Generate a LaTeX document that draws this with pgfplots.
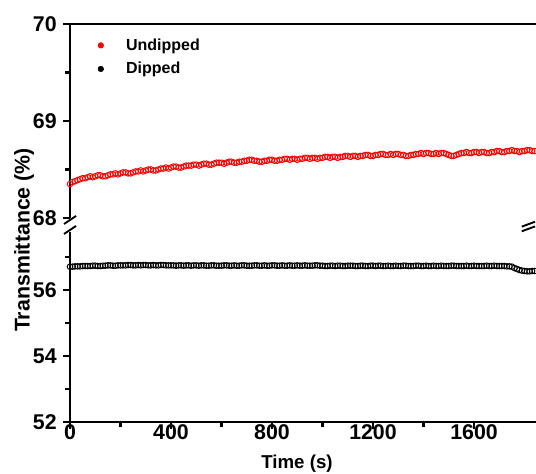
\documentclass[border=0pt]{standalone}
\usepackage{pgfplots}
\pgfplotsset{compat=1.18}
\usepackage{fontspec}
\setmainfont{Liberation Sans}

\begin{document}
\begin{tikzpicture}
\pgfplotsset{
  brk/.style={
    scale only axis, width=349.5pt,
    xmin=0, xmax=1845.5,
    tick label style={font=\fontsize{16}{18}\selectfont\bfseries},
    yticklabel style={xshift=-1.5pt},
    /pgf/number format/assume math mode=true,
    /pgf/number format/1000 sep={},
  },
  nolinetips/.style={
    every outer x axis line/.append style={-, line width=2pt},
    every outer y axis line/.append style={-, line width=2pt},
    x axis line style={-}, y axis line style={-},
    tick align=outside,
    major tick length=5pt, minor tick length=3.5pt,
    every tick/.style={line width=1.6pt, black},
  },
  undip/.style={only marks, mark=o, mark size=2.1pt, red,
    mark options={line width=0.7pt, fill=white}},
  dip/.style={only marks, mark=o, mark size=2.1pt, black,
    mark options={line width=0.7pt, fill=white}},
}

% lower part, 52 -- 57.75
\begin{axis}[brk, name=lo, at={(0pt,0pt)}, height=142.5pt,
  ymin=52, ymax=57.75,
  axis x line=bottom, axis y line=left, nolinetips,
  xtick={0,400,...,1600}, minor xtick={200,600,1000,1400},
  ytick={52,54,56}, minor ytick={53,55,57},
  xticklabel style={yshift=6.5pt},
]
%Dipped
\addplot[dip] coordinates {
 (0,56.70) (10,56.70) (20,56.71) (30,56.71) (40,56.71) (50,56.72) (60,56.72) (70,56.72) (80,56.72) (90,56.73)
 (100,56.73) (110,56.72) (120,56.72) (130,56.73) (140,56.73) (150,56.74) (160,56.74) (170,56.73) (180,56.73) (190,56.74)
 (200,56.74) (210,56.74) (220,56.74) (230,56.75) (240,56.75) (250,56.74) (260,56.74) (270,56.75) (280,56.74) (290,56.75)
 (300,56.75) (310,56.74) (320,56.74) (330,56.75) (340,56.74) (350,56.74) (360,56.75) (370,56.75) (380,56.74) (390,56.74)
 (400,56.74) (410,56.74) (420,56.73) (430,56.74) (440,56.74) (450,56.73) (460,56.74) (470,56.74) (480,56.73) (490,56.74)
 (500,56.74) (510,56.73) (520,56.74) (530,56.74) (540,56.73) (550,56.73) (560,56.74) (570,56.74) (580,56.73) (590,56.73)
 (600,56.73) (610,56.74) (620,56.74) (630,56.73) (640,56.73) (650,56.74) (660,56.73) (670,56.73) (680,56.74) (690,56.74)
 (700,56.73) (710,56.73) (720,56.73) (730,56.74) (740,56.74) (750,56.73) (760,56.73) (770,56.74) (780,56.73) (790,56.73)
 (800,56.74) (810,56.74) (820,56.73) (830,56.73) (840,56.74) (850,56.73) (860,56.73) (870,56.74) (880,56.73) (890,56.73)
 (900,56.74) (910,56.73) (920,56.73) (930,56.74) (940,56.73) (950,56.73) (960,56.73) (970,56.74) (980,56.74) (990,56.73)
 (1000,56.73) (1010,56.72) (1020,56.72) (1030,56.73) (1040,56.73) (1050,56.72) (1060,56.73) (1070,56.73) (1080,56.72) (1090,56.72)
 (1100,56.73) (1110,56.73) (1120,56.73) (1130,56.72) (1140,56.72) (1150,56.73) (1160,56.73) (1170,56.72) (1180,56.72) (1190,56.73)
 (1200,56.73) (1210,56.72) (1220,56.73) (1230,56.73) (1240,56.72) (1250,56.72) (1260,56.73) (1270,56.72) (1280,56.72) (1290,56.73)
 (1300,56.72) (1310,56.72) (1320,56.73) (1330,56.73) (1340,56.72) (1350,56.72) (1360,56.72) (1370,56.73) (1380,56.73) (1390,56.72)
 (1400,56.72) (1410,56.73) (1420,56.72) (1430,56.72) (1440,56.73) (1450,56.72) (1460,56.72) (1470,56.73) (1480,56.72) (1490,56.72)
 (1500,56.72) (1510,56.73) (1520,56.73) (1530,56.72) (1540,56.72) (1550,56.72) (1560,56.72) (1570,56.73) (1580,56.72) (1590,56.72)
 (1600,56.73) (1610,56.72) (1620,56.72) (1630,56.72) (1640,56.72) (1650,56.73) (1660,56.72) (1670,56.72) (1680,56.73) (1690,56.72)
 (1700,56.72) (1710,56.72) (1720,56.72) (1730,56.71) (1740,56.71) (1750,56.70) (1760,56.66) (1770,56.63) (1780,56.60) (1790,56.58)
 (1800,56.57) (1810,56.56) (1820,56.56) (1830,56.57) (1840,56.57)
};
\end{axis}

% upper part, 68 -- 70
\begin{axis}[brk, name=hi, at={(0pt,153pt)}, height=145.5pt,
  ymin=68, ymax=70,
  axis x line=top, axis y line=left, nolinetips,
  xtick=\empty,
  ytick={68,69,70}, minor ytick={68.5,69.5},
  legend style={at={(rel axis cs:0.059,0.94)}, anchor=north west,
    draw=none, fill=none, inner sep=0pt,
    font=\fontsize{12}{14}\selectfont\bfseries,
    row sep=3.5pt},
  legend cell align=left,
]
%Undipped
\addplot[undip, legend image code/.code={\fill[red] (0pt,0pt) circle (2.1pt); \path (-2pt,0pt) (16.75pt,0pt);}] coordinates {
 (0,68.35) (10,68.37) (20,68.38) (30,68.39) (40,68.40) (50,68.41) (60,68.41) (70,68.42) (80,68.43) (90,68.42)
 (100,68.43) (110,68.44) (120,68.44) (130,68.43) (140,68.43) (150,68.44) (160,68.45) (170,68.45) (180,68.46) (190,68.45)
 (200,68.46) (210,68.47) (220,68.47) (230,68.46) (240,68.46) (250,68.47) (260,68.48) (270,68.48) (280,68.49) (290,68.48)
 (300,68.49) (310,68.50) (320,68.50) (330,68.49) (340,68.49) (350,68.50) (360,68.51) (370,68.51) (380,68.52) (390,68.51)
 (400,68.52) (410,68.53) (420,68.53) (430,68.52) (440,68.52) (450,68.53) (460,68.54) (470,68.54) (480,68.54) (490,68.55)
 (500,68.55) (510,68.54) (520,68.55) (530,68.56) (540,68.56) (550,68.55) (560,68.55) (570,68.56) (580,68.57) (590,68.57)
 (600,68.57) (610,68.56) (620,68.57) (630,68.58) (640,68.58) (650,68.57) (660,68.57) (670,68.58) (680,68.58) (690,68.59)
 (700,68.59) (710,68.60) (720,68.60) (730,68.59) (740,68.59) (750,68.58) (760,68.58) (770,68.59) (780,68.59) (790,68.60)
 (800,68.60) (810,68.59) (820,68.59) (830,68.60) (840,68.60) (850,68.61) (860,68.61) (870,68.60) (880,68.61) (890,68.61)
 (900,68.60) (910,68.61) (920,68.61) (930,68.62) (940,68.62) (950,68.61) (960,68.62) (970,68.62) (980,68.61) (990,68.62)
 (1000,68.62) (1010,68.63) (1020,68.63) (1030,68.62) (1040,68.63) (1050,68.63) (1060,68.62) (1070,68.63) (1080,68.63) (1090,68.64)
 (1100,68.64) (1110,68.63) (1120,68.64) (1130,68.64) (1140,68.63) (1150,68.64) (1160,68.64) (1170,68.65) (1180,68.65) (1190,68.64)
 (1200,68.64) (1210,68.65) (1220,68.65) (1230,68.66) (1240,68.66) (1250,68.65) (1260,68.65) (1270,68.66) (1280,68.65) (1290,68.66)
 (1300,68.66) (1310,68.65) (1320,68.65) (1330,68.64) (1340,68.64) (1350,68.65) (1360,68.65) (1370,68.66) (1380,68.66) (1390,68.67)
 (1400,68.66) (1410,68.67) (1420,68.67) (1430,68.66) (1440,68.66) (1450,68.67) (1460,68.66) (1470,68.67) (1480,68.67) (1490,68.66)
 (1500,68.65) (1510,68.64) (1520,68.64) (1530,68.65) (1540,68.66) (1550,68.67) (1560,68.67) (1570,68.68) (1580,68.67) (1590,68.67)
 (1600,68.68) (1610,68.68) (1620,68.67) (1630,68.68) (1640,68.68) (1650,68.67) (1660,68.67) (1670,68.68) (1680,68.68) (1690,68.69)
 (1700,68.69) (1710,68.68) (1720,68.68) (1730,68.69) (1740,68.69) (1750,68.70) (1760,68.69) (1770,68.69) (1780,68.68) (1790,68.69)
 (1800,68.69) (1810,68.70) (1820,68.70) (1830,68.69) (1840,68.69)
};
\addlegendentry{Undipped}
\addlegendimage{dip, legend image code/.code={\fill[black] (0pt,0pt) circle (2.1pt); \path (-2pt,0pt) (16.75pt,0pt);}}
\addlegendentry{Dipped}
\end{axis}

% axis break marks
\draw[line width=1.4pt] (-4.5pt,148.5pt) -- (4.5pt,154.5pt);
\draw[line width=1.4pt] (-4.5pt,141pt) -- (4.5pt,147pt);
\draw[line width=1.4pt] (338.8pt,146.5pt) -- (348.8pt,150.2pt);
\draw[line width=1.4pt] (338.8pt,143pt) -- (348.8pt,146.7pt);

% axis titles
\node[rotate=90, font=\fontsize{16}{18}\selectfont\bfseries] at (-34.5pt,136.5pt) {Transmittance (\%)};
\node[anchor=base, font=\fontsize{14}{16}\selectfont\bfseries] at (170.25pt,-35.25pt) {Time (s)};

\pgfresetboundingbox
\useasboundingbox (-52.5pt,-39pt) rectangle (349.5pt,316.5pt);
\end{tikzpicture}
\end{document}
